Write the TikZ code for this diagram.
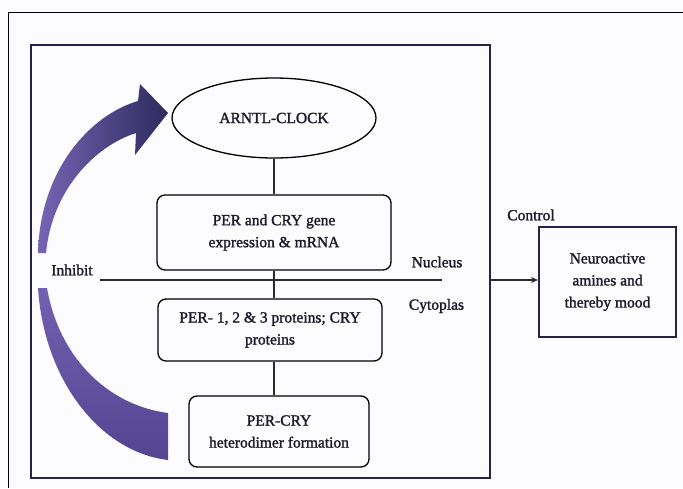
\documentclass[tikz,border=0pt]{standalone}
\usepackage{fontspec}
\setmainfont{Liberation Serif}[FakeBold=1.5]
\usetikzlibrary{arrows.meta,shapes.geometric}
\definecolor{bgcol}{HTML}{FCFBFE}
\definecolor{framecol}{HTML}{2B2148}
\definecolor{inkcol}{HTML}{1C1A2A}
\definecolor{linecol}{HTML}{2A2A35}
\definecolor{arrlight}{HTML}{7564B4}
\definecolor{arrdark}{HTML}{2E2A5E}
\definecolor{arrmid}{HTML}{5D4C9E}
\newcommand{\lblfont}{\fontsize{15.5}{22}\selectfont}
\tikzset{
  lbl/.style={font=\lblfont, text=inkcol, inner sep=0pt},
  stepbox/.style={draw=black, line width=1.3pt, rounded corners=8pt, align=center,
    font=\lblfont, text=inkcol, inner sep=0pt},
  conn/.style={draw=linecol, line width=1.1pt},
  bigframe/.style={draw=framecol, line width=2pt, inner sep=0pt},
}
\begin{document}
\begin{tikzpicture}[x=1pt,y=-1pt]
\useasboundingbox (0,0) rectangle (683,488);
\fill[bgcol] (0,0) rectangle (683,488);
% outer frame
\draw[black, line width=1pt] (8,488) -- (8,12) -- (683,12);
% main box
\node[bigframe, minimum width=459pt, minimum height=433pt] (main) at (260.5,261.5) {};
% purple arrows
\shade[left color=arrlight, right color=arrdark]
  (38,253) .. controls (40,170) and (90,115) .. (138,101)
  -- (140,84) -- (168,113) -- (135,155) -- (136,133)
  .. controls (95,146) and (52,190) .. (46,253) -- cycle;
\shade[top color=arrlight!85!arrmid, bottom color=arrmid!80!arrdark]
  (38,288) .. controls (44,380) and (100,452) .. (168,460)
  -- (168,413) .. controls (112,406) and (60,362) .. (47,288) -- cycle;
% nodes
\node[stepbox, ellipse, minimum width=204pt, minimum height=80pt] (ell) at (274,118) {ARNTL-CLOCK};
\node[stepbox, minimum width=234pt, minimum height=75pt] (b1) at (274,232.5) {PER and CRY gene\\expression \& mRNA};
\node[stepbox, minimum width=224pt, minimum height=62pt] (b2) at (270,330) {PER- 1, 2 \& 3 proteins; CRY\\proteins};
\node[stepbox, minimum width=180pt, minimum height=71pt] (b3) at (279,431.5) {PER-CRY\\heterodimer formation};
\node[bigframe, minimum width=137pt, minimum height=110pt, align=center,
  font=\lblfont, text=inkcol] (neuro) at (607.5,282) {Neuroactive\\amines and\\thereby mood};
% labels
\node[lbl] (inh) at (72,270) {Inhibit};
\node[lbl] (nuc) at (437,262) {Nucleus};
\node[lbl] (cyt) at (436.5,306) {Cytoplas};
\node[lbl] (ctl) at (531,215) {Control};
% membrane line
\coordinate (nl) at (100,280);
\coordinate (nr) at (442,280);
\draw[conn] (nl) -- (nr);
% connectors
\draw[conn] (ell.south) -- (ell.south |- b1.north);
\draw[conn] (ell.south |- b1.south) -- (ell.south |- b2.north);
\draw[conn] (ell.south |- b2.south) -- (ell.south |- b3.north);
\draw[conn, -{Stealth[length=7pt,width=6pt]}] (main.east |- nl) -- (neuro.west |- nl);
\end{tikzpicture}
\end{document}
